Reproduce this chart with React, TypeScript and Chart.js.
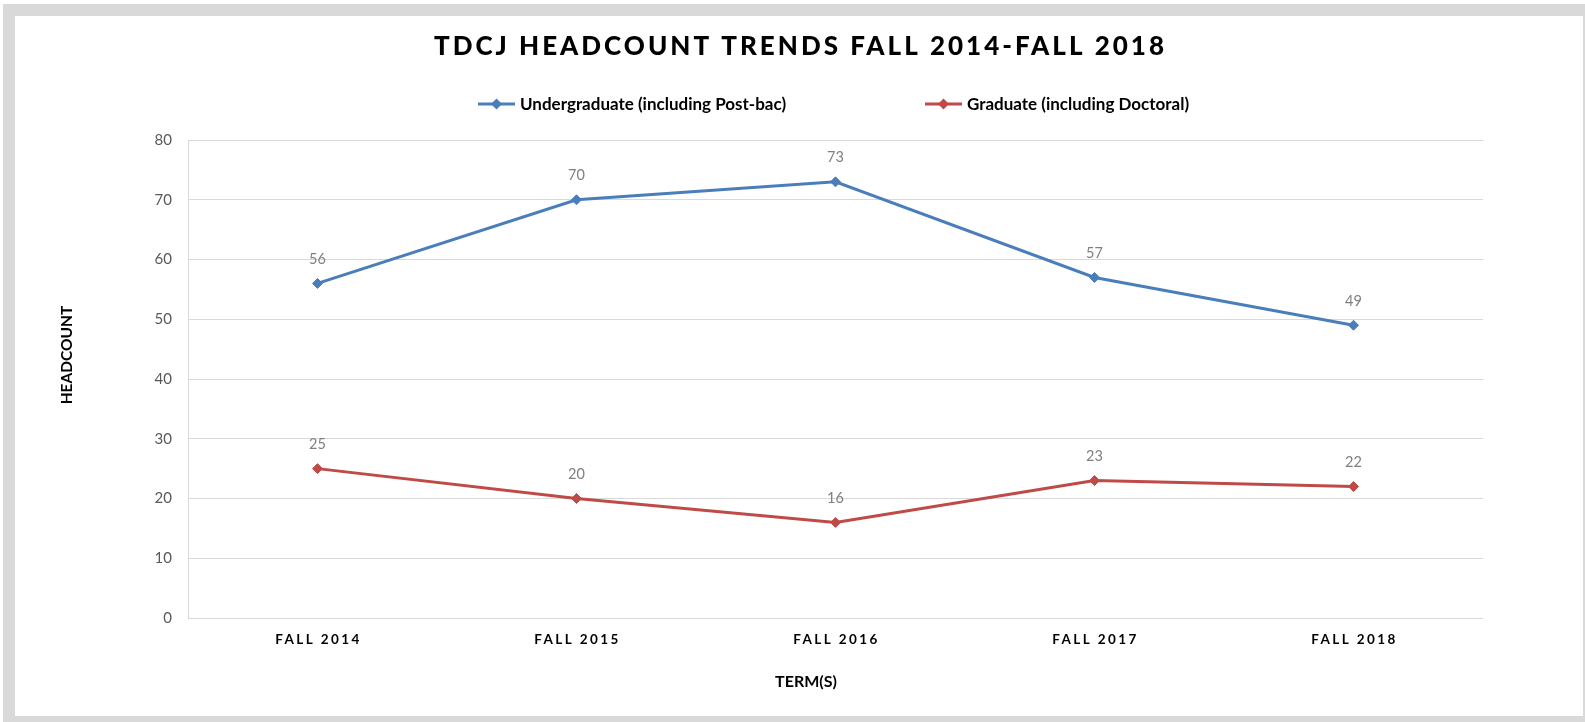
import React, { useEffect, useRef } from "react";
import { Chart, registerables } from "chart.js";

Chart.register(...registerables);

const titleText = "TDCJ HEADCOUNT TRENDS FALL 2014-FALL 2018";
const terms = ["FALL 2014", "FALL 2015", "FALL 2016", "FALL 2017", "FALL 2018"];
const seriesNames = ["Undergraduate (including Post-bac)", "Graduate (including Doctoral)"];
const undergraduate = [56, 70, 73, 57, 49];
const graduate = [25, 20, 16, 23, 22];
const seriesColors = ["#4a7ebb", "#be4b48"];
const yTitle = "HEADCOUNT";
const xTitle = "TERM(S)";

const FONT = "Lato, 'Open Sans', sans-serif";

const overlay = {
  id: "overlay",
  afterDraw(chart: any) {
    const ctx = chart.ctx as CanvasRenderingContext2D;
    const x = chart.scales.x;
    ctx.save();
    // title
    ctx.fillStyle = "#000";
    ctx.textAlign = "left";
    ctx.textBaseline = "middle";
    ctx.font = `900 26px ${FONT}`;
    (ctx as any).letterSpacing = "3px";
    ctx.fillText(titleText, 434, 47);
    // x tick labels
    ctx.textAlign = "center";
    ctx.font = `bold 13.5px ${FONT}`;
    (ctx as any).letterSpacing = "2.4px";
    terms.forEach((t, i) => {
      ctx.fillText(t, x.getPixelForValue(i) + 1, 640);
    });
    (ctx as any).letterSpacing = "0px";
    // x title
    ctx.font = `bold 16px ${FONT}`;
    ctx.fillText(xTitle, 806, 682);
    // y title
    ctx.save();
    ctx.translate(67, 355);
    ctx.rotate(-Math.PI / 2);
    ctx.font = `bold 15.5px ${FONT}`;
    ctx.fillText(yTitle, 0, 0);
    ctx.restore();
    // legend
    const legendX = [478, 925];
    ctx.font = `bold 17px ${FONT}`;
    ctx.textAlign = "left";
    chart.data.datasets.forEach((ds: any, i: number) => {
      const lx = legendX[i];
      const ly = 104;
      ctx.strokeStyle = ds.borderColor;
      ctx.lineWidth = 3;
      ctx.beginPath();
      ctx.moveTo(lx, ly);
      ctx.lineTo(lx + 37, ly);
      ctx.stroke();
      ctx.fillStyle = ds.borderColor;
      const cx = lx + 18.5;
      ctx.beginPath();
      ctx.moveTo(cx, ly - 5.5);
      ctx.lineTo(cx + 5.5, ly);
      ctx.lineTo(cx, ly + 5.5);
      ctx.lineTo(cx - 5.5, ly);
      ctx.closePath();
      ctx.fill();
      ctx.fillStyle = "#000";
      ctx.fillText(ds.label, lx + 42, ly + 1);
    });
    // data labels
    ctx.textAlign = "center";
    ctx.fillStyle = "#7f7f7f";
    ctx.font = `14.5px ${FONT}`;
    chart.data.datasets.forEach((ds: any, i: number) => {
      const meta = chart.getDatasetMeta(i);
      meta.data.forEach((pt: any, j: number) => {
        ctx.fillText(String(ds.data[j]), pt.x, pt.y - 24);
      });
    });
    ctx.restore();
  },
};

export default function App() {
  const ref = useRef<HTMLCanvasElement>(null);
  useEffect(() => {
    document.body.style.margin = "0";
    const chart = new Chart(ref.current!, {
      type: "line",
      data: {
        labels: terms,
        datasets: [
          {
            label: seriesNames[0],
            data: undergraduate,
            borderColor: seriesColors[0],
            backgroundColor: seriesColors[0],
            pointBackgroundColor: seriesColors[0],
            pointBorderColor: seriesColors[0],
            borderWidth: 3,
            pointStyle: "rectRot",
            pointRadius: 5,
            pointBorderWidth: 1,
            tension: 0,
          },
          {
            label: seriesNames[1],
            data: graduate,
            borderColor: seriesColors[1],
            backgroundColor: seriesColors[1],
            pointBackgroundColor: seriesColors[1],
            pointBorderColor: seriesColors[1],
            borderWidth: 3,
            pointStyle: "rectRot",
            pointRadius: 5,
            pointBorderWidth: 1,
            tension: 0,
          },
        ],
      },
      options: {
        responsive: false,
        animation: false,
        layout: { padding: { top: 140, left: 0, right: 102, bottom: 0 } },
        plugins: { legend: { display: false }, title: { display: false }, tooltip: { enabled: false } },
        scales: {
          x: {
            offset: true,
            grid: { display: false },
            border: { display: false },
            ticks: { display: false },
            afterFit: (s: any) => {
              s.height = 722 - 618;
            },
          },
          y: {
            min: 0,
            max: 80,
            ticks: { stepSize: 10, color: "#595959", font: { family: FONT, size: 15 }, padding: 16 },
            grid: { color: "#d9d9d9", drawTicks: false, lineWidth: 1 },
            border: { display: true, color: "#d9d9d9" },
            afterFit: (s: any) => {
              s.width = 188;
            },
          },
        },
      },
      plugins: [overlay],
    });
    return () => chart.destroy();
  }, []);
  return (
    <div style={{ position: "relative", width: 1585, height: 722, background: "#fff" }}>
      <div style={{ position: "absolute", left: 3, top: 4, width: 1582, height: 718, background: "#d9d9d9" }} />
      <div style={{ position: "absolute", left: 15, top: 16, width: 1568, height: 700, background: "#fff" }} />
      <canvas ref={ref} width={1585} height={722} style={{ position: "absolute", left: 0, top: 0 }} />
    </div>
  );
}
